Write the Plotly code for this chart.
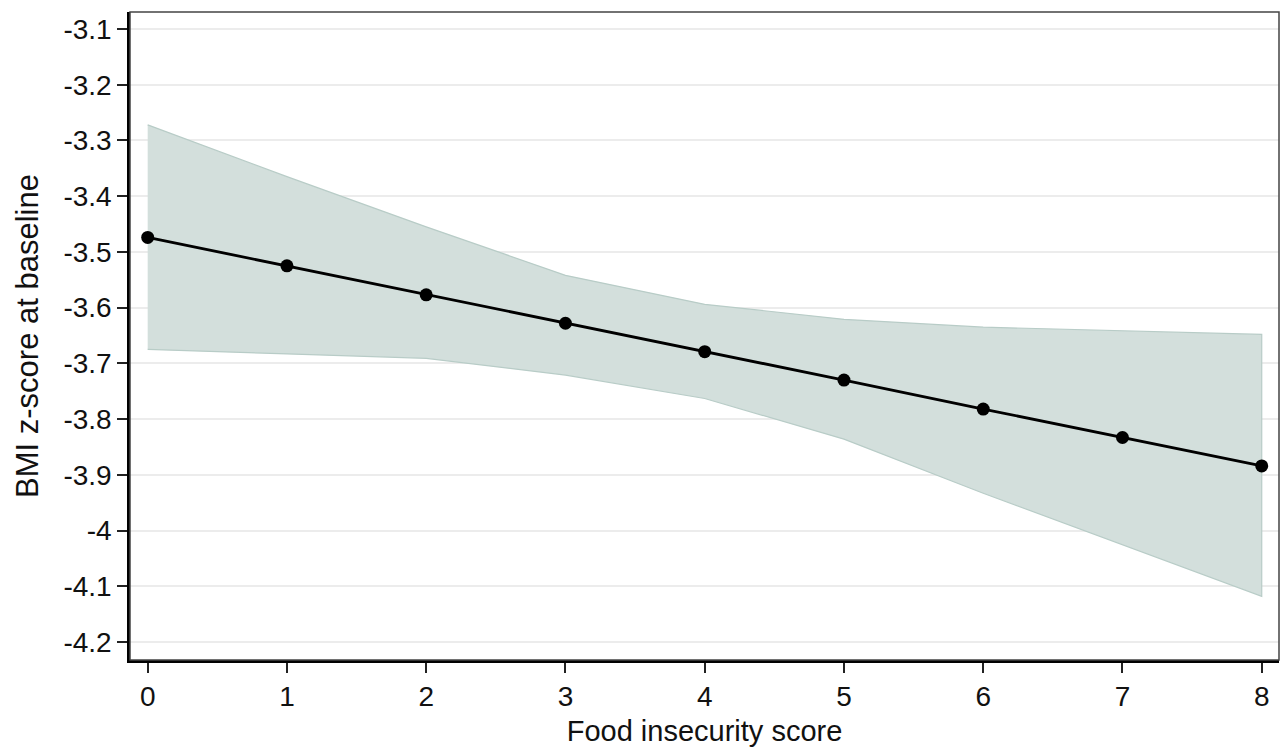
import plotly.graph_objects as go

# Data
food_insecurity = [0, 1, 2, 3, 4, 5, 6, 7, 8]
bmi_z = [-3.474, -3.525, -3.577, -3.628, -3.679, -3.730, -3.782, -3.833, -3.884]
ci_upper = [-3.272, -3.365, -3.455, -3.542, -3.594, -3.621, -3.635, -3.642, -3.648]
ci_lower = [-3.675, -3.683, -3.691, -3.721, -3.763, -3.836, -3.933, -4.025, -4.118]

x_tick_vals = [0, 1, 2, 3, 4, 5, 6, 7, 8]
x_tick_text = ["0", "1", "2", "3", "4", "5", "6", "7", "8"]
y_tick_vals = [-4.2, -4.1, -4.0, -3.9, -3.8, -3.7, -3.6, -3.5, -3.4, -3.3, -3.2, -3.1]
y_tick_text = ["-4.2", "-4.1", "-4", "-3.9", "-3.8", "-3.7", "-3.6", "-3.5",
               "-3.4", "-3.3", "-3.2", "-3.1"]

FONT = "Liberation Sans, Arial, sans-serif"

fig = go.Figure()

# Confidence band
fig.add_trace(go.Scatter(
    x=food_insecurity + food_insecurity[::-1],
    y=ci_upper + ci_lower[::-1],
    fill="toself",
    fillcolor="#d3dfdc",
    line=dict(color="#b8ccc7", width=1.2),
    mode="lines",
    hoverinfo="skip",
    showlegend=False,
))

# Predicted line with markers
fig.add_trace(go.Scatter(
    x=food_insecurity,
    y=bmi_z,
    mode="lines+markers",
    line=dict(color="black", width=2.8),
    marker=dict(color="black", size=13),
    showlegend=False,
))

fig.update_layout(
    width=1282,
    height=751,
    margin=dict(l=130, r=3, t=12, b=91),
    paper_bgcolor="white",
    plot_bgcolor="white",
    font=dict(family=FONT, color="#111111"),
    shapes=[dict(
        type="rect", xref="paper", yref="paper",
        x0=0, x1=1, y0=0, y1=1,
        line=dict(color="#444444", width=1.5),
        layer="above",
    )],
)

fig.update_xaxes(
    range=[-0.127, 8.124],
    tickmode="array",
    tickvals=x_tick_vals,
    ticktext=x_tick_text,
    ticks="outside",
    ticklen=10,
    tickwidth=1.5,
    tickcolor="#222222",
    tickfont=dict(size=28, family=FONT, color="#111111"),
    showgrid=False,
    zeroline=False,
    showline=True,
    linecolor="black",
    linewidth=2.5,
    title=dict(text="Food insecurity score", font=dict(size=29, family=FONT, color="#111111"),
               standoff=10),
)

fig.update_yaxes(
    range=[-4.2323, -3.0695],
    tickmode="array",
    tickvals=y_tick_vals,
    ticktext=y_tick_text,
    ticks="outside",
    ticklen=10,
    tickwidth=1.5,
    tickcolor="#222222",
    tickfont=dict(size=28, family=FONT, color="#111111"),
    showgrid=True,
    gridcolor="#ececec",
    gridwidth=1.5,
    zeroline=False,
    showline=True,
    linecolor="black",
    linewidth=2.5,
    title=dict(text="BMI z-score at baseline", font=dict(size=31, family=FONT, color="#111111"),
               standoff=16),
)

fig.write_html(
    "out.html",
    config={"displayModeBar": False},
    post_script="document.body.style.margin='0';document.body.style.overflow='hidden';",
)
